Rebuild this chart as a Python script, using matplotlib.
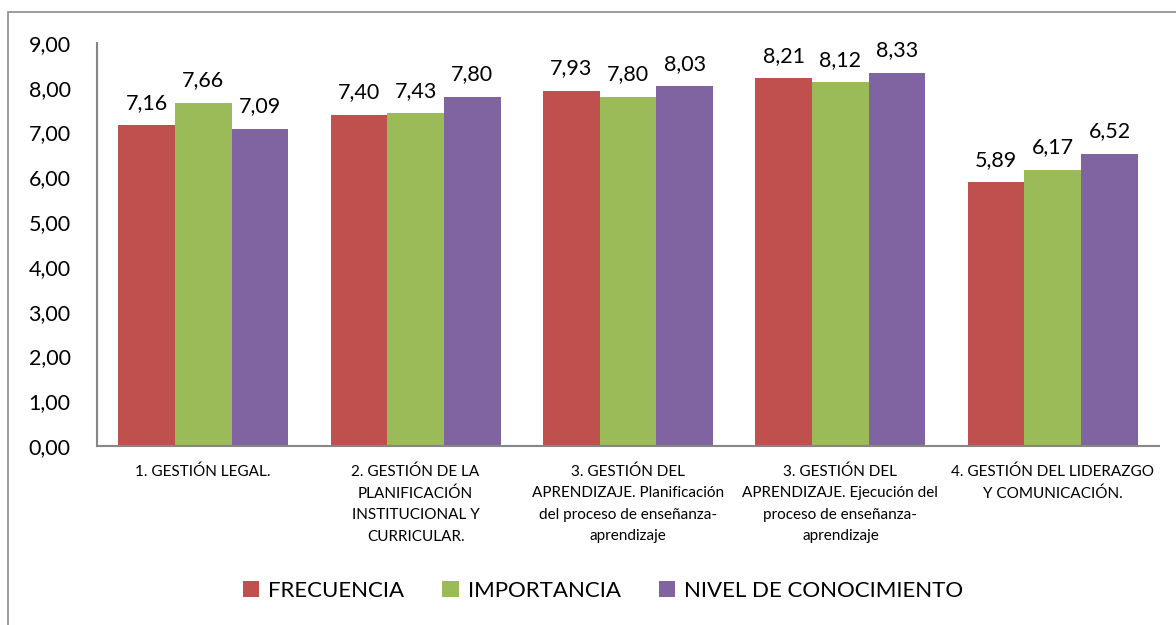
import matplotlib.pyplot as plt
import numpy as np
from matplotlib.patches import Rectangle

plt.rcParams['font.family'] = ['Lato', 'DejaVu Sans']

categories = [
    '1. GESTIÓN LEGAL.',
    '2. GESTIÓN DE LA\nPLANIFICACIÓN\nINSTITUCIONAL Y\nCURRICULAR.',
    '3. GESTIÓN DEL\nAPRENDIZAJE. Planificación\ndel proceso de enseñanza-\naprendizaje',
    '3. GESTIÓN DEL\nAPRENDIZAJE. Ejecución del\nproceso de enseñanza-\naprendizaje',
    '4. GESTIÓN DEL LIDERAZGO\nY COMUNICACIÓN.',
]
series_names = ['FRECUENCIA', 'IMPORTANCIA', 'NIVEL DE CONOCIMIENTO']
frecuencia = [7.16, 7.40, 7.93, 8.21, 5.89]
importancia = [7.66, 7.43, 7.80, 8.12, 6.17]
conocimiento = [7.09, 7.80, 8.03, 8.33, 6.52]
y_ticks = [0, 1, 2, 3, 4, 5, 6, 7, 8, 9]

colors = ['#C0504D', '#9BBB59', '#8064A2']


def fmt(v):
    return f'{v:.2f}'.replace('.', ',')


fig = plt.figure(figsize=(11.76, 6.25), dpi=100)
ax = fig.add_axes([97 / 1176, 1 - 446 / 625, 1062 / 1176, 403 / 625])

# outer chart frame, runs off the right and bottom edges
fig.patches.append(Rectangle((8 / 1176, -0.1), 1.2, 1 - 12 / 625 + 0.1,
                             transform=fig.transFigure, fill=False,
                             edgecolor='#8c8c8c', linewidth=1.2))

x = np.arange(len(categories))
width = 0.8 / 3
for i, (vals, name) in enumerate(zip([frecuencia, importancia, conocimiento], series_names)):
    pos = x + (i - 1) * width
    bars = ax.bar(pos, vals, width, color=colors[i], label=name, edgecolor='none')
    for b, v in zip(bars, vals):
        ax.annotate(fmt(v), (b.get_x() + b.get_width() / 2, v),
                    xytext=(0, 9), textcoords='offset points',
                    ha='center', va='bottom', fontsize=15.5)

ax.set_xlim(-0.5, len(categories) - 0.5)
ax.set_ylim(0, 9)
ax.set_yticks(y_ticks)
ax.set_yticklabels([fmt(t) for t in y_ticks], fontsize=15.5)
ax.set_xticks(x)
ax.set_xticklabels(categories, fontsize=11, linespacing=1.68, va='top')
ax.tick_params(axis='both', length=0)
ax.tick_params(axis='x', pad=13)
ax.tick_params(axis='y', pad=19)
for side in ['top', 'right']:
    ax.spines[side].set_visible(False)
for side in ['left', 'bottom']:
    ax.spines[side].set_color('#868686')
    ax.spines[side].set_linewidth(1.5)

leg = fig.legend(loc='center', bbox_to_anchor=(603 / 1176, 1 - 591 / 625),
                 ncol=3, frameon=False, fontsize=16, handlelength=0.75,
                 handleheight=0.75, handletextpad=0.4, columnspacing=1.7)

fig.savefig('out.png', dpi=100)
